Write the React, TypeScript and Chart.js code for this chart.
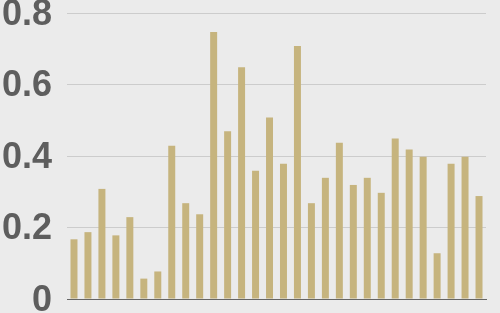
import React, { useEffect, useRef } from "react";
import { Chart, registerables } from "chart.js";

Chart.register(...registerables);

const categories: string[] = Array.from({ length: 30 }, (_, i) => String(i + 1));
const values: number[] = [
  0.167, 0.187, 0.308, 0.178, 0.229, 0.057, 0.077, 0.429, 0.268, 0.237,
  0.747, 0.469, 0.648, 0.359, 0.508, 0.378, 0.708, 0.268, 0.339, 0.437,
  0.319, 0.339, 0.297, 0.449, 0.418, 0.398, 0.128, 0.378, 0.398, 0.288,
];
const yTicks: number[] = [0, 0.2, 0.4, 0.6, 0.8];

export default function App() {
  const ref = useRef<HTMLCanvasElement | null>(null);
  useEffect(() => {
    document.body.style.margin = "0";
    document.body.style.background = "#ebebeb";
    const chart = new Chart(ref.current!, {
      type: "bar",
      data: {
        labels: categories,
        datasets: [
          {
            data: values,
            backgroundColor: "#c6b47e",
            barPercentage: 0.5,
            categoryPercentage: 1,
          },
        ],
      },
      options: {
        responsive: false,
        animation: false,
        layout: { padding: { top: 13, bottom: 14, left: 0, right: 14 } },
        plugins: { legend: { display: false }, tooltip: { enabled: false } },
        scales: {
          x: {
            ticks: { display: false },
            grid: { display: false },
            border: { display: true, color: "#666666", width: 1 },
            afterFit: (s: any) => {
              s.height = 0;
              s.paddingLeft = 0;
              s.paddingRight = 0;
            },
          },
          y: {
            min: 0,
            max: 0.8,
            afterBuildTicks: (s: any) => {
              s.ticks = yTicks.map((v) => ({ value: v }));
            },
            afterFit: (s: any) => {
              s.width = 67;
              s.paddingTop = 0;
              s.paddingBottom = 0;
            },
            ticks: {
              padding: 15,
              labelOffset: 2,
              color: "#5e5e5e",
              font: { family: "Liberation Sans, Arial, sans-serif", size: 36, weight: "bold" },
              callback: (v: any) => String(Number(v)),
            },
            grid: { color: "#cccccc", drawTicks: false, lineWidth: 1 },
            border: { display: false },
          },
        },
      },
    });
    return () => chart.destroy();
  }, []);
  return (
    <div style={{ width: 500, height: 313, background: "#ebebeb" }}>
      <canvas ref={ref} width={500} height={313} style={{ display: "block" }} />
    </div>
  );
}
